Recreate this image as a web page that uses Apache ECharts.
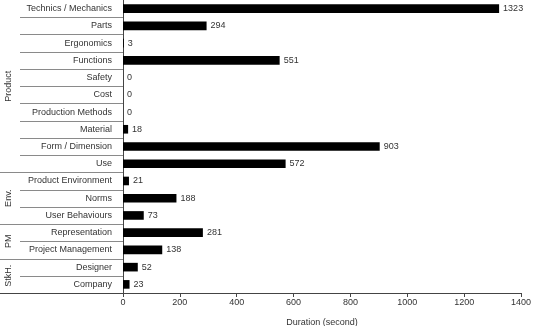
<!DOCTYPE html>
<html>
<head>
    <meta http-equiv="Content-Type" content="text/html; charset=utf-8"/>
    <title>Duration per topic</title>
    <script src="https://cdn.jsdelivr.net/npm/echarts@6/dist/echarts.min.js"></script>
    <style>
        body { margin: 0; background: #fff; }
        #main { width: 537px; height: 326px; }
    </style>
</head>
<body>
<div id="main"></div>
<script type="text/javascript">
    // categories from top to bottom
    var categories = ['Technics / Mechanics', 'Parts', 'Ergonomics', 'Functions', 'Safety', 'Cost',
        'Production Methods', 'Material', 'Form / Dimension', 'Use', 'Product Environment', 'Norms',
        'User Behaviours', 'Representation', 'Project Management', 'Designer', 'Company'];
    var durations = [1323, 294, 3, 551, 0, 0, 0, 18, 903, 572, 21, 188, 73, 281, 138, 52, 23];
    // groups on the far left and how many rows each covers
    var groupNames = ['Product', 'Env.', 'PM', 'StkH.'];
    var groupSizes = [10, 3, 2, 2];
    var xTicks = [0, 200, 400, 600, 800, 1000, 1200, 1400];

    var font = 'Liberation Sans, Arial, sans-serif';
    var axisColor = '#444';
    var sepColor = '#8a8a8a';
    var myChart = echarts.init(document.getElementById('main'));

    myChart.setOption({
        animation: false,
        grid: {left: 123, right: 16, top: 0, bottom: 33, containLabel: false, outerBoundsMode: 'none'},
        xAxis: {
            type: 'value',
            min: xTicks[0],
            max: xTicks[xTicks.length - 1],
            interval: xTicks[1] - xTicks[0],
            name: 'Duration (second)',
            nameLocation: 'middle',
            nameGap: 25,
            nameTextStyle: {fontFamily: font, fontSize: 9, color: '#333'},
            axisLine: {show: true, lineStyle: {color: axisColor, width: 1}},
            axisTick: {show: true, length: 4, lineStyle: {color: axisColor}},
            axisLabel: {
                fontFamily: font, fontSize: 9, color: '#333', margin: 5,
                formatter: function (v) { return String(v); }
            },
            splitLine: {show: false}
        },
        yAxis: {
            type: 'category',
            inverse: true,
            data: categories,
            axisLine: {show: true, lineStyle: {color: axisColor, width: 1}},
            axisTick: {show: false},
            axisLabel: {fontFamily: font, fontSize: 9, color: '#333', margin: 11}
        },
        series: [{
            name: 'Duration',
            type: 'bar',
            data: durations,
            barWidth: '50%',
            itemStyle: {color: '#000'},
            label: {
                show: true,
                position: 'right',
                distance: 4,
                fontFamily: font,
                fontSize: 9,
                color: '#333'
            }
        }]
    });

    // separators and group names, placed from the category axis
    var y0 = myChart.convertToPixel({yAxisIndex: 0}, categories[0]);
    var y1 = myChart.convertToPixel({yAxisIndex: 0}, categories[1]);
    var band = y1 - y0;
    var axisX = myChart.convertToPixel({xAxisIndex: 0}, 0);
    var graphics = [];
    var groupEnds = {};
    var acc = 0;
    groupSizes.forEach(function (n) { acc += n; groupEnds[acc] = true; });
    for (var k = 1; k <= categories.length; k++) {
        var y = Math.round(y0 - band / 2 + k * band) + 0.5;
        graphics.push({
            type: 'line',
            shape: {x1: groupEnds[k] ? 0 : 20, y1: y, x2: axisX, y2: y},
            style: {stroke: k === categories.length ? axisColor : sepColor, lineWidth: 1}
        });
    }
    var start = 0;
    groupNames.forEach(function (name, i) {
        var mid = y0 - band / 2 + (start + groupSizes[i] / 2) * band;
        graphics.push({
            type: 'text',
            x: 9,
            y: mid,
            rotation: Math.PI / 2,
            style: {
                text: name,
                fontFamily: font,
                fontSize: 9,
                fill: '#333',
                align: 'center',
                verticalAlign: 'middle'
            }
        });
        start += groupSizes[i];
    });
    myChart.setOption({graphic: graphics});
</script>
</body>
</html>
